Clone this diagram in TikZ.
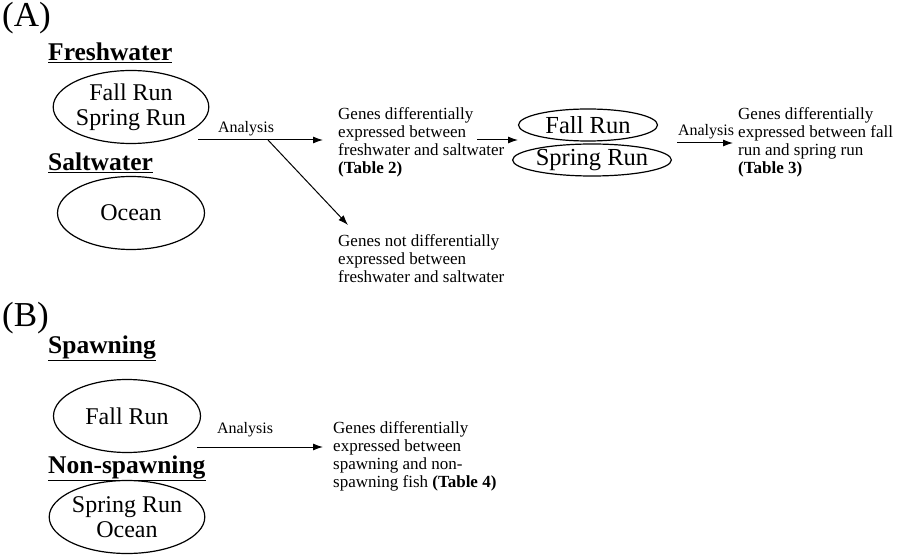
\documentclass[tikz,border=0pt]{standalone}
\usepackage{fontspec}
\setmainfont{Liberation Serif}
\usetikzlibrary{shapes.geometric,arrows.meta}
\begin{document}
\begin{tikzpicture}[x=1pt,y=-1pt,
  lbl/.style={anchor=base west,inner sep=0pt,font=\fontsize{35}{38}\selectfont},
  hdr/.style={anchor=base west,inner sep=0pt,font=\bfseries\fontsize{25.5}{28}\selectfont},
  ell/.style={ellipse,draw,line width=1.2pt,inner sep=0pt,minimum width=147pt,minimum height=73pt,align=center,font=\fontsize{24}{25}\selectfont},
  sell/.style={ellipse,draw,line width=1.2pt,inner sep=0pt,minimum width=139pt,minimum height=32pt,font=\fontsize{24.5}{25}\selectfont},
  small/.style={anchor=north west,inner sep=0pt,align=left,font=\fontsize{17}{18.2}\selectfont},
  alab/.style={anchor=base,inner sep=0pt,font=\fontsize{16}{17}\selectfont},
  arr/.style={line width=1pt,-{Latex[length=10pt,width=7pt]}},
  ln/.style={line width=1pt}
]
\useasboundingbox (0,0) rectangle (905,556);
% Panel A
\node[lbl] (A) at (2,27) {(A)};
\node[hdr] (fresh) at (48,61) {\underline{Freshwater}};
\node[ell] (fw) at (131,107) {Fall Run\\Spring Run};
\node[hdr] (salt) at (48,171) {\underline{Saltwater}};
\node[ell] (oc) at (131,213) {Ocean};
\coordinate (a1s) at (198,140);
\coordinate (a1e) at (323,140);
\coordinate (a1m) at (268,140);
\draw[arr] (a1s) -- (a1e);
\node[alab] (an1) at (246,133) {Analysis};
\node[small] (t1) at (338,107) {Genes differentially\\expressed between\\freshwater and saltwater\\\textbf{(Table 2)}};
\coordinate (d1e) at (348,225);
\draw[arr] (a1m) -- (d1e);
\node[small] (t2) at (338,234) {Genes not differentially\\expressed between\\freshwater and saltwater};
\coordinate (a2s) at (477,140);
\coordinate (a2e) at (518,140);
\draw[arr] (a2s) -- (a2e);
\node[sell] (fr) at (588,125) {Fall Run};
\node[sell,minimum width=140pt] (sr) at (592,160) {Spring Run};
\coordinate (a3s) at (677,143);
\coordinate (a3e) at (733,143);
\draw[arr] (a3s) -- (a3e);
\node[alab] (an3) at (706,136) {Analysis};
\node[small] (t3) at (738,107) {Genes differentially\\expressed between fall\\run and spring run\\\textbf{(Table 3)}};
% Panel B
\node[lbl] (B) at (2,326) {(B)};
\node[hdr] (spawn) at (48,353) {\underline{Spawning}};
\node[ell] (fb) at (127,416) {Fall Run};
\node[hdr] (nons) at (48,473) {\underline{Non-spawning}};
\node[ell] (sb) at (127,517) {Spring Run\\Ocean};
\coordinate (a4s) at (197,447);
\coordinate (a4e) at (323,447);
\draw[arr] (a4s) -- (a4e);
\node[alab] (an4) at (245,433) {Analysis};
\node[small] (t4) at (333,421) {Genes differentially\\expressed between\\spawning and non-\\spawning fish \textbf{(Table 4)}};
\end{tikzpicture}
\end{document}
